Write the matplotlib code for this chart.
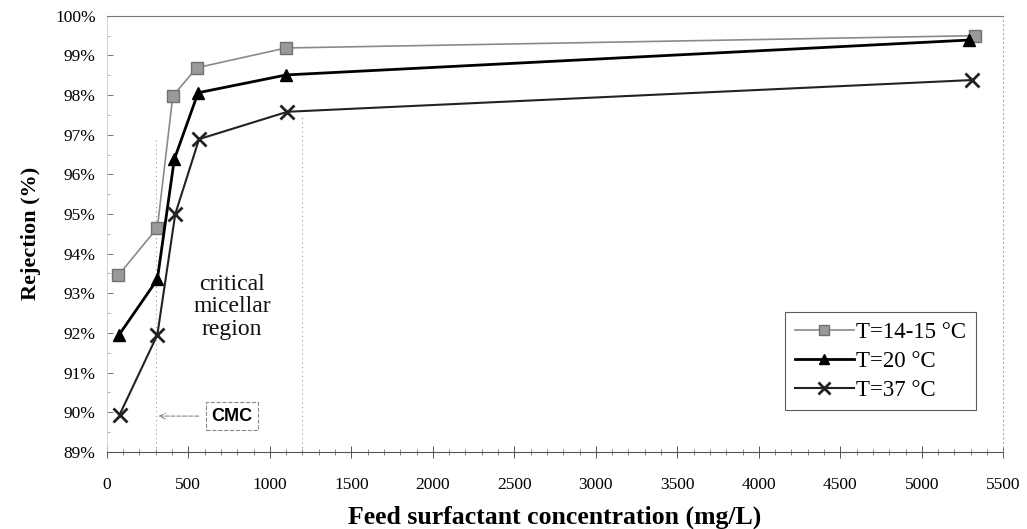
import matplotlib
matplotlib.use("Agg")
import matplotlib.pyplot as plt
from matplotlib.ticker import MultipleLocator, FuncFormatter

# Data
x_14 = [70, 310, 405, 552, 1099, 5325]
y_14 = [93.45, 94.65, 97.98, 98.69, 99.19, 99.50]
x_20 = [75, 310, 414, 560, 1102, 5290]
y_20 = [91.95, 93.35, 96.38, 98.06, 98.51, 99.39]
x_37 = [78, 310, 420, 566, 1108, 5305]
y_37 = [89.93, 91.95, 95.00, 96.89, 97.58, 98.38]
labels = ["T=14-15 \u00b0C", "T=20 \u00b0C", "T=37 \u00b0C"]
x_ticks = list(range(0, 5501, 500))
y_ticks = list(range(89, 101))
cmc_x = 300
region_end_x = 1200

serif = ["Liberation Serif", "DejaVu Serif"]

fig = plt.figure(figsize=(10.27, 5.29), dpi=100)
ax = fig.add_axes([0.104, 0.146, 0.873, 0.824])

ax.plot(x_14, y_14, color="#8a8a8a", lw=1.2, marker="s", ms=9,
        mfc="#9a9a9a", mec="#707070", mew=1.0, label=labels[0], zorder=3)
ax.plot(x_20, y_20, color="black", lw=2.0, marker="^", ms=9,
        mfc="black", mec="black", label=labels[1], zorder=4)
ax.plot(x_37, y_37, color="#222222", lw=1.5, marker="x", ms=10,
        mew=2.0, mec="#222222", label=labels[2], zorder=4)

ax.set_xlim(0, 5500)
ax.set_ylim(89, 100)

# vertical region markers
ax.plot([cmc_x, cmc_x], [89, 96.9], color="#999999", lw=0.8, ls=(0, (1, 3)), zorder=1)
ax.plot([region_end_x, region_end_x], [89, 97.5], color="#999999", lw=0.8, ls=(0, (1, 3)), zorder=1)

# annotation text
ax.text(767, 92.66, "critical\nmicellar\nregion", ha="center", va="center",
        family=serif, fontsize=17, linespacing=1.1, color="#111111")
ax.annotate("", xy=(cmc_x, 89.9), xytext=(580, 89.9),
            arrowprops=dict(arrowstyle="->", color="#888888", lw=0.8, ls="--"))
ax.text(767, 89.9, "CMC", ha="center", va="center", fontsize=13, fontweight="bold",
        family=["Liberation Sans", "DejaVu Sans"],
        bbox=dict(boxstyle="square,pad=0.3", fc="white", ec="#888888", lw=0.8, ls="--"))

ax.set_xticks(x_ticks)
ax.set_yticks(y_ticks)
ax.xaxis.set_minor_locator(MultipleLocator(100))
ax.yaxis.set_minor_locator(MultipleLocator(0.5))
ax.yaxis.set_major_formatter(FuncFormatter(lambda v, p: f"{int(round(v))}%"))
for lab in ax.get_xticklabels() + ax.get_yticklabels():
    lab.set_family(serif)
    lab.set_fontsize(12.5)
ax.tick_params(axis="x", which="major", direction="inout", length=8, pad=14, width=0.7, color="#555555")
ax.tick_params(axis="x", which="minor", direction="inout", length=4, width=0.6, color="#777777")
ax.tick_params(axis="y", which="major", direction="in", length=4, pad=8, width=0.7, color="#777777")
ax.tick_params(axis="y", which="minor", direction="in", length=2, width=0.6, color="#999999")

ax.spines["bottom"].set_color("#555555")
ax.spines["bottom"].set_linewidth(0.8)
ax.spines["left"].set_color("#cccccc")
ax.spines["left"].set_linewidth(0.6)
ax.spines["top"].set_color("#777777")
ax.spines["top"].set_linestyle((0, (4, 1)))
ax.spines["top"].set_linewidth(0.8)
ax.spines["right"].set_color("#aaaaaa")
ax.spines["right"].set_linestyle((0, (1, 3)))
ax.spines["right"].set_linewidth(0.8)

ax.set_xlabel("Feed surfactant concentration (mg/L)", family=serif, fontsize=18.5,
              fontweight="bold", labelpad=9)
ax.set_ylabel("Rejection (%)", family=serif, fontsize=16, fontweight="bold", labelpad=10)

leg = ax.legend(loc="lower right", bbox_to_anchor=(0.969, 0.096), borderaxespad=0,
                prop={"family": serif, "size": 16.5},
                frameon=True, fancybox=False, edgecolor="#333333", handlelength=2.6,
                handletextpad=0.1, borderpad=0.4, labelspacing=0.35, markerscale=0.85)
leg.get_frame().set_linewidth(0.8)

fig.savefig("out.png", dpi=100)
